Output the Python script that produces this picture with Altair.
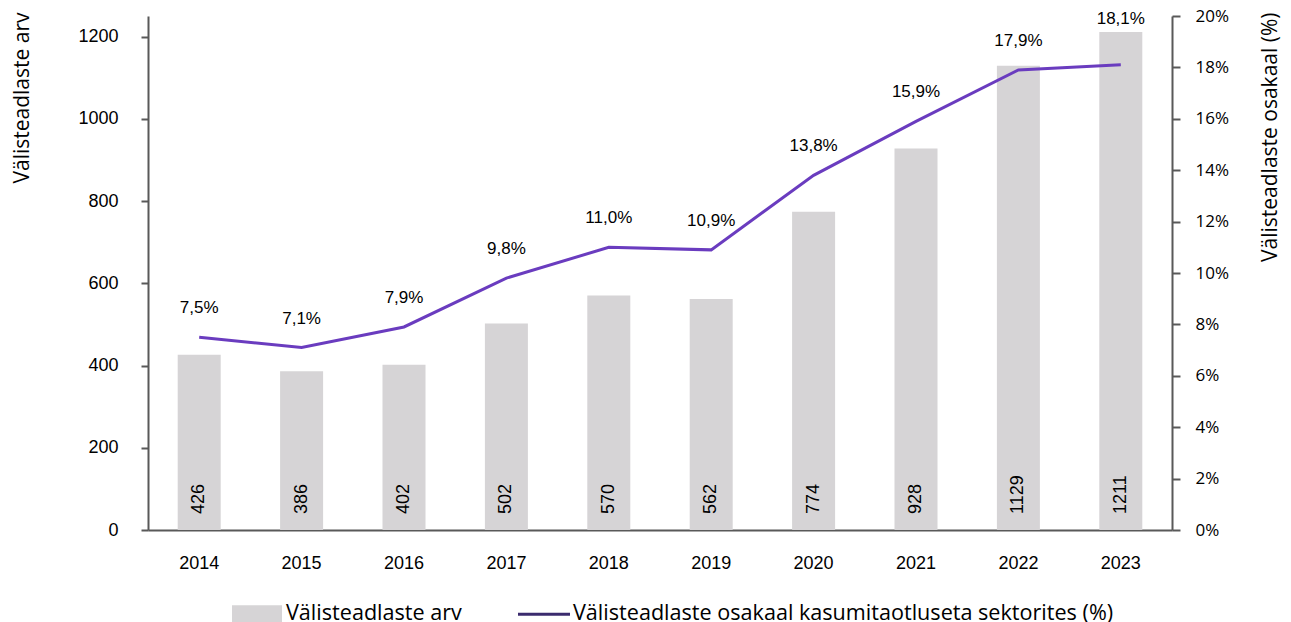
import altair as alt
import pandas as pd

years = [2014, 2015, 2016, 2017, 2018, 2019, 2020, 2021, 2022, 2023]
counts = [426, 386, 402, 502, 570, 562, 774, 928, 1129, 1211]
shares = [7.5, 7.1, 7.9, 9.8, 11.0, 10.9, 13.8, 15.9, 17.9, 18.1]
series_names = ["Välisteadlaste arv",
                "Välisteadlaste osakaal kasumitaotluseta sektorites (%)"]
left_ticks = [0, 200, 400, 600, 800, 1000, 1200]
right_ticks = [0, 2, 4, 6, 8, 10, 12, 14, 16, 18, 20]

df = pd.DataFrame({"year": [str(y) for y in years], "count": counts, "share": shares})
legend_df = pd.DataFrame({"series": series_names})

BAR = "#d6d4d6"
LINE = "#6a3cbf"
LEG_LINE = "#3b2b6e"
AXIS = "#595959"
NUMFONT = "Liberation Sans"
TXTFONT = "Open Sans"

x = alt.X("year:O", title=None,
          scale=alt.Scale(paddingInner=0.58, paddingOuter=0.29),
          axis=alt.Axis(labelAngle=0, labelFont=NUMFONT, labelFontSize=18,
                        labelColor="#000", ticks=False, tickSize=0, labelPadding=24,
                        domainColor=AXIS, domainWidth=2))

base = alt.Chart(df)

bars = base.mark_bar(color=BAR).encode(
    x=x,
    y=alt.Y("count:Q", scale=alt.Scale(domain=[0, 1250], nice=False),
            axis=alt.Axis(orient="left", values=left_ticks, grid=False, format="d",
                          title=series_names[0],
                          titleX=-126, titleY=-4, titleAlign="right", titleAngle=270,
                          titleBaseline="middle", titleFont=TXTFONT, titleFontSize=21,
                          titleFontWeight="normal", titleColor="#000",
                          labelFont=NUMFONT, labelFontSize=18, labelColor="#000",
                          labelPadding=23, tickSize=7, tickColor=AXIS, tickWidth=2,
                          domainColor=AXIS, domainWidth=2)),
)

bar_labels = base.mark_text(angle=270, align="left", baseline="middle", dx=16,
                            font=NUMFONT, fontSize=18, color="#000").encode(
    x=x,
    y=alt.datum(0),
    text=alt.Text("count:Q"),
)

line = base.mark_line(color=LINE, strokeWidth=3).encode(
    x=x,
    y=alt.Y("share:Q", scale=alt.Scale(domain=[0, 20], nice=False),
            axis=alt.Axis(orient="right", values=right_ticks, grid=False,
                          labelExpr="datum.value + '%'",
                          title="Välisteadlaste osakaal (%)",
                          titleX=98, titleY=-4, titleAlign="right", titleAngle=270,
                          titleBaseline="middle", titleFont=TXTFONT, titleFontSize=21,
                          titleFontWeight="normal", titleColor="#000",
                          labelFont=TXTFONT, labelFontSize=17, labelColor="#000",
                          labelPadding=15, tickSize=8, tickColor=AXIS, tickWidth=2,
                          domainColor=AXIS, domainWidth=2)),
)

# label sits above the line, and is lifted above the bar top where the bar is higher
pct_labels = base.transform_calculate(
    lbl="replace(format(datum.share, '.1f'), '.', ',') + '%'",
    lpos="max(datum.share, datum.count * 20 / 1250 - 0.62)",
).mark_text(baseline="alphabetic", dy=-24, font=NUMFONT, fontSize=17, color="#000").encode(
    x=x,
    y=alt.Y("lpos:Q"),
    text="lbl:N",
)

leg = alt.Legend(title=None, orient="none", legendX=84, legendY=573,
                 direction="horizontal", symbolSize=2500, symbolStrokeWidth=0,
                 labelFont=TXTFONT, labelFontSize=21.6, labelColor="#000",
                 labelOffset=4, columnPadding=56, labelLimit=1000)

legend_layer = alt.Chart(legend_df).mark_point(
    filled=True, opacity=1, clip=True, strokeWidth=0
).encode(
    x=alt.value(-500),
    y=alt.value(-500),
    color=alt.Color("series:N", scale=alt.Scale(domain=series_names, range=[BAR, LEG_LINE]),
                    legend=leg),
    shape=alt.Shape("series:N",
                    scale=alt.Scale(domain=series_names,
                                    range=["M-1,-0.36H1V0.36H-1Z", "M-1.04,-0.06H1.04V0.06H-1.04Z"]),
                    legend=leg),
)

chart = alt.layer(
    alt.layer(bars, bar_labels),
    alt.layer(line, pct_labels),
    legend_layer,
).resolve_scale(y="independent").properties(
    width=1024, height=514,
    autosize=alt.AutoSizeParams(type="none"),
    padding={"left": 140, "top": 8, "right": 111, "bottom": 100},
).configure_view(stroke=None)

chart.save("out.html", embed_options={"renderer": "svg", "actions": False})
